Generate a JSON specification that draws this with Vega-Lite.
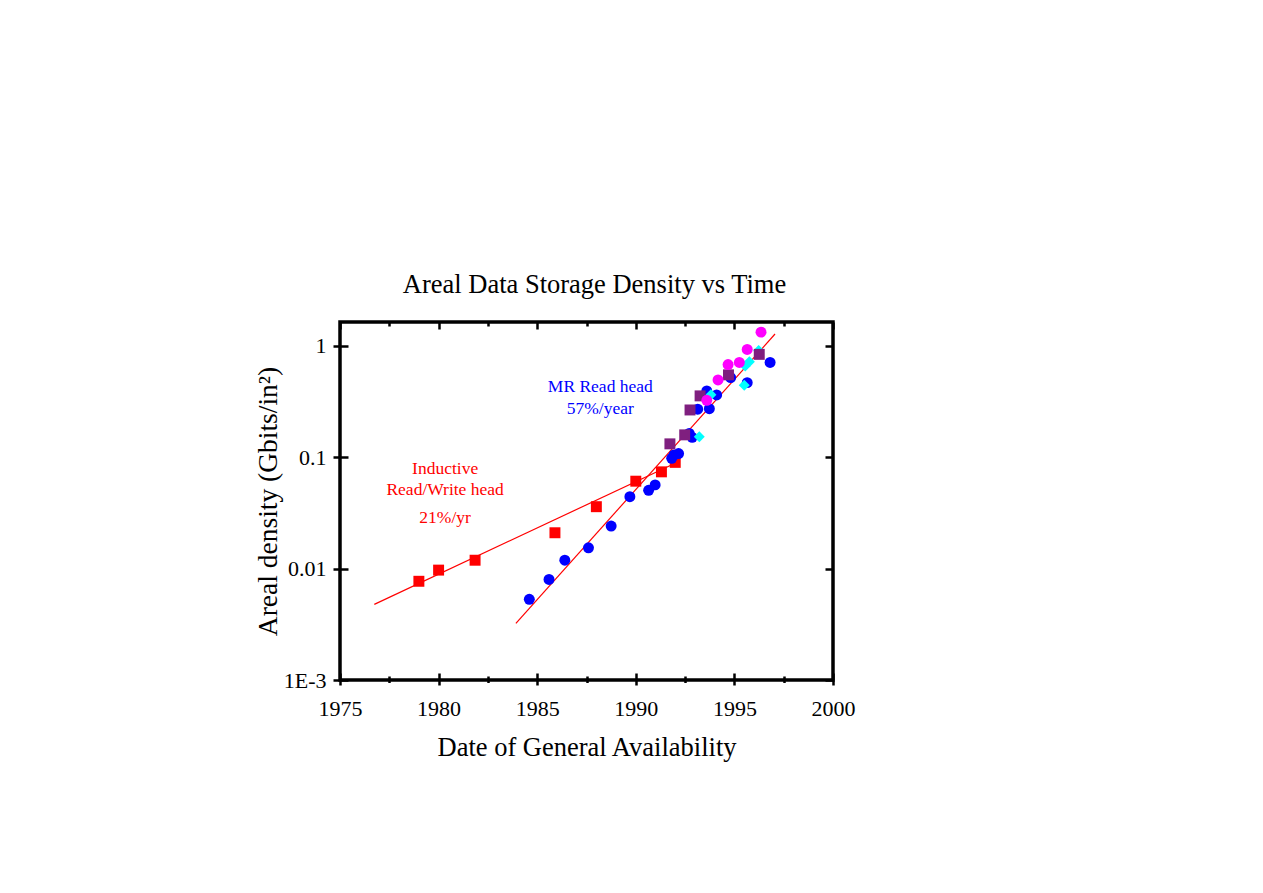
{
  "$schema": "https://vega.github.io/schema/vega-lite/v6.json",
  "width": 493,
  "height": 358,
  "autosize": {"type": "none"},
  "padding": {"left": 340, "top": 322, "right": 430, "bottom": 213},
  "background": "white",
  "config": {
    "view": {"stroke": "black", "strokeWidth": 3.5},
    "font": "Liberation Serif",
    "axis": {"grid": false, "domain": false, "tickColor": "black", "tickWidth": 2.5, "labelColor": "black", "titleColor": "black", "labelFont": "Liberation Serif", "titleFont": "Liberation Serif", "titleFontWeight": "normal"}
  },
  "title": {"text": "Areal Data Storage Density vs Time", "fontSize": 26.5, "fontWeight": "normal", "font": "Liberation Serif", "color": "black", "offset": 22, "dx": 8},
  "datasets": {
    "points": [
      {"series": "Inductive head", "year": 1979.0, "density": 0.0077},
      {"series": "Inductive head", "year": 1980.0, "density": 0.0097},
      {"series": "Inductive head", "year": 1981.85, "density": 0.0119},
      {"series": "Inductive head", "year": 1985.9, "density": 0.021},
      {"series": "Inductive head", "year": 1988.0, "density": 0.036},
      {"series": "Inductive head", "year": 1990.0, "density": 0.061},
      {"series": "Inductive head", "year": 1991.3, "density": 0.074},
      {"series": "Inductive head", "year": 1992.0, "density": 0.09},
      {"series": "MR head", "year": 1984.6, "density": 0.0053},
      {"series": "MR head", "year": 1985.6, "density": 0.008},
      {"series": "MR head", "year": 1986.4, "density": 0.0119},
      {"series": "MR head", "year": 1987.6, "density": 0.0154},
      {"series": "MR head", "year": 1988.75, "density": 0.0241},
      {"series": "MR head", "year": 1989.7, "density": 0.0443},
      {"series": "MR head", "year": 1990.65, "density": 0.0505},
      {"series": "MR head", "year": 1990.98, "density": 0.0565},
      {"series": "MR head", "year": 1991.82, "density": 0.098},
      {"series": "MR head", "year": 1991.94, "density": 0.105},
      {"series": "MR head", "year": 1992.17, "density": 0.108},
      {"series": "MR head", "year": 1992.71, "density": 0.164},
      {"series": "MR head", "year": 1992.86, "density": 0.151},
      {"series": "MR head", "year": 1993.14, "density": 0.27},
      {"series": "MR head", "year": 1993.6, "density": 0.394},
      {"series": "MR head", "year": 1993.73, "density": 0.273},
      {"series": "MR head", "year": 1994.1, "density": 0.363},
      {"series": "MR head", "year": 1994.81, "density": 0.52},
      {"series": "MR head", "year": 1995.65, "density": 0.468},
      {"series": "MR head", "year": 1996.81, "density": 0.71},
      {"series": "Series 5", "year": 1993.22, "density": 0.153},
      {"series": "Series 5", "year": 1993.81, "density": 0.365},
      {"series": "Series 5", "year": 1995.5, "density": 0.443},
      {"series": "Series 5", "year": 1995.55, "density": 0.66},
      {"series": "Series 5", "year": 1995.76, "density": 0.72},
      {"series": "Series 5", "year": 1996.23, "density": 0.91},
      {"series": "Series 3", "year": 1991.73, "density": 0.132},
      {"series": "Series 3", "year": 1992.48, "density": 0.159},
      {"series": "Series 3", "year": 1992.75, "density": 0.266},
      {"series": "Series 3", "year": 1993.26, "density": 0.356},
      {"series": "Series 3", "year": 1994.7, "density": 0.55},
      {"series": "Series 3", "year": 1996.26, "density": 0.84},
      {"series": "Series 4", "year": 1993.6, "density": 0.325},
      {"series": "Series 4", "year": 1994.17, "density": 0.495},
      {"series": "Series 4", "year": 1994.68, "density": 0.68},
      {"series": "Series 4", "year": 1995.25, "density": 0.71},
      {"series": "Series 4", "year": 1995.65, "density": 0.93},
      {"series": "Series 4", "year": 1996.35, "density": 1.33}
    ],
    "fits": [
      {"fit": "Inductive", "year": 1976.74, "density": 0.00478},
      {"fit": "Inductive", "year": 1992.24, "density": 0.0927},
      {"fit": "MR", "year": 1983.92, "density": 0.00322},
      {"fit": "MR", "year": 1997.06, "density": 1.28}
    ],
    "notes": [
      {"series": "Inductive head", "year": 1980.33, "density": 0.0785, "label": "Inductive"},
      {"series": "Inductive head", "year": 1980.33, "density": 0.0512, "label": "Read/Write head"},
      {"series": "Inductive head", "year": 1980.33, "density": 0.0285, "label": "21%/yr"},
      {"series": "MR head", "year": 1988.2, "density": 0.425, "label": "MR Read head"},
      {"series": "MR head", "year": 1988.2, "density": 0.27, "label": "57%/year"}
    ]
  },
  "layer": [
    {
      "data": {"name": "fits"},
      "mark": {"type": "line", "color": "#ff0000", "strokeWidth": 1.2},
      "encoding": {
        "x": {"field": "year", "type": "quantitative",
          "scale": {"domain": [1975, 2000], "nice": false, "zero": false},
          "axis": {"orient": "bottom", "values": [1975, 1977.5, 1980, 1982.5, 1985, 1987.5, 1990, 1992.5, 1995, 1997.5, 2000],
            "labelExpr": "datum.value % 5 === 0 ? '' + datum.value : ''",
            "tickSize": {"condition": {"test": "datum.value % 5 === 0", "value": 5}, "value": 2.5},
            "labelPadding": 13, "labelFontSize": 22, "labelFlush": false,
            "title": "Date of General Availability", "titleFontSize": 26.5, "titlePadding": 15}},
        "y": {"field": "density", "type": "quantitative",
          "scale": {"type": "log", "domain": [0.001, 1.64], "nice": false},
          "axis": {"orient": "left", "values": [0.001, 0.01, 0.1, 1],
            "labelExpr": "datum.value < 0.002 ? '1E-3' : '' + datum.value",
            "tickSize": 7, "labelPadding": 7, "labelFontSize": 22, "labelFlush": false,
            "title": "Areal density (Gbits/in²)", "titleFontSize": 27.5, "titlePadding": 1}},
        "detail": {"field": "fit", "type": "nominal"}
      }
    },
    {
      "data": {"name": "points"},
      "mark": {"type": "point", "filled": true, "opacity": 1, "size": 120},
      "encoding": {
        "x": {"field": "year", "type": "quantitative",
          "scale": {"domain": [1975, 2000], "nice": false, "zero": false},
          "axis": {"orient": "top", "values": [1975, 1977.5, 1980, 1982.5, 1985, 1987.5, 1990, 1992.5, 1995, 1997.5, 2000],
            "labels": false, "title": null,
            "tickSize": {"condition": {"test": "datum.value % 5 === 0", "value": -7}, "value": -4}}},
        "y": {"field": "density", "type": "quantitative",
          "scale": {"type": "log", "domain": [0.001, 1.64], "nice": false},
          "axis": {"orient": "right", "values": [0.001, 0.01, 0.1, 1], "labels": false, "title": null, "tickSize": -8}},
        "color": {"field": "series", "type": "nominal", "legend": null,
          "scale": {"domain": ["Inductive head", "MR head", "Series 3", "Series 4", "Series 5"], "range": ["#ff0000", "#0000ff", "#7f1f7f", "#ff00ff", "#00ffff"]}},
        "shape": {"field": "series", "type": "nominal", "legend": null,
          "scale": {"domain": ["Inductive head", "MR head", "Series 3", "Series 4", "Series 5"], "range": ["square", "circle", "square", "circle", "diamond"]}}
      }
    },
    {
      "data": {"name": "notes"},
      "mark": {"type": "text", "fontSize": 17.5, "font": "Liberation Serif", "align": "center", "baseline": "middle"},
      "encoding": {
        "x": {"field": "year", "type": "quantitative",
          "axis": {"orient": "bottom", "values": [1975, 1977.5, 1980, 1982.5, 1985, 1987.5, 1990, 1992.5, 1995, 1997.5, 2000],
            "labels": false, "title": null,
            "tickSize": {"condition": {"test": "datum.value % 5 === 0", "value": -7}, "value": -4}}},
        "y": {"field": "density", "type": "quantitative",
          "axis": {"orient": "left", "values": [0.001, 0.01, 0.1, 1], "labels": false, "title": null, "tickSize": -8}},
        "text": {"field": "label"},
        "color": {"field": "series", "type": "nominal", "legend": null}
      }
    }
  ],
  "resolve": {"axis": {"x": "independent", "y": "independent"}}
}
